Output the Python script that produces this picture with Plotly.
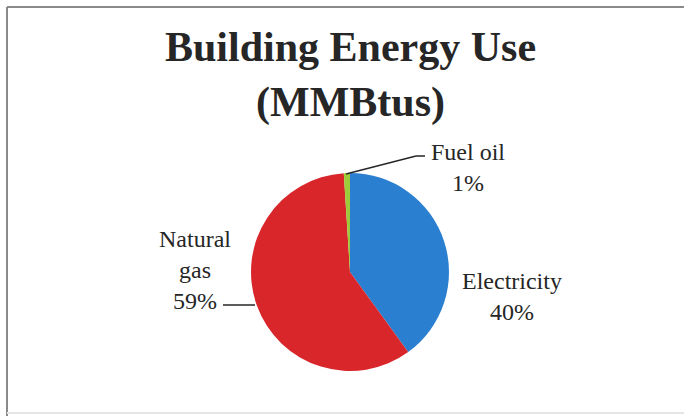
import plotly.graph_objects as go

# ---- data ----
categories = ["Electricity", "Natural gas", "Fuel oil"]
shares = [40, 59, 1]
colors = ["#2a7fd0", "#d8262b", "#9ccc3a"]
label_lines = ["Electricity<br>{}%", "Natural<br>gas<br>{}%", "Fuel oil<br>{}%"]

W, H = 684, 416
def px(x):
    return x / W
def py(y):
    return 1 - y / H

cx, cy, r = 350, 272, 99

fig = go.Figure(go.Pie(
    labels=categories,
    values=shares,
    sort=False,
    direction="clockwise",
    rotation=0,
    marker=dict(colors=colors, line=dict(width=0)),
    textinfo="none",
    hoverinfo="label+percent",
    showlegend=False,
    domain=dict(x=[px(cx - r), px(cx + r)], y=[py(cy + r), py(cy - r)]),
))

serif = "Liberation Serif"
fig.add_annotation(x=px(350), y=py(75), xref="paper", yref="paper",
                   text="<b>Building Energy Use<br>(MMBtus)</b>", showarrow=False,
                   font=dict(family=serif, size=42, color="#262626"),
                   xanchor="center", yanchor="middle", align="center")

# label positions (pixel coords of text centres)
label_pos = {
    "Electricity": (512, 296),
    "Natural gas": (195, 270),
    "Fuel oil": (468, 167),
}
for cat, val, tmpl in zip(categories, shares, label_lines):
    x, y = label_pos[cat]
    fig.add_annotation(x=px(x), y=py(y), xref="paper", yref="paper",
                       text=tmpl.format(val), showarrow=False,
                       font=dict(family=serif, size=24, color="#262626"),
                       xanchor="center", yanchor="middle", align="center")

# leader lines
leaders = [
    [(346, 174), (416, 156), (425, 156)],   # Fuel oil
    [(223, 305), (255, 305)],                # Natural gas
]
for pts in leaders:
    for (x0, y0), (x1, y1) in zip(pts[:-1], pts[1:]):
        fig.add_shape(type="line", xref="paper", yref="paper",
                      x0=px(x0), y0=py(y0), x1=px(x1), y1=py(y1),
                      line=dict(color="#262626", width=1.5))

# chart frame (scanned): top and left strong, bottom faint
frame = [
    ((7, 7), (684, 7), "#8a8a8a"),
    ((7, 7), (7, 416), "#8a8a8a"),
    ((7, 413), (684, 413), "#e6e6e6"),
]
for (x0, y0), (x1, y1), c in frame:
    fig.add_shape(type="line", xref="paper", yref="paper",
                  x0=px(x0), y0=py(y0), x1=px(x1), y1=py(y1),
                  line=dict(color=c, width=2))

fig.update_layout(
    width=W, height=H,
    margin=dict(l=0, r=0, t=0, b=0),
    paper_bgcolor="white",
    plot_bgcolor="white",
)

fig.write_html("out.html")
